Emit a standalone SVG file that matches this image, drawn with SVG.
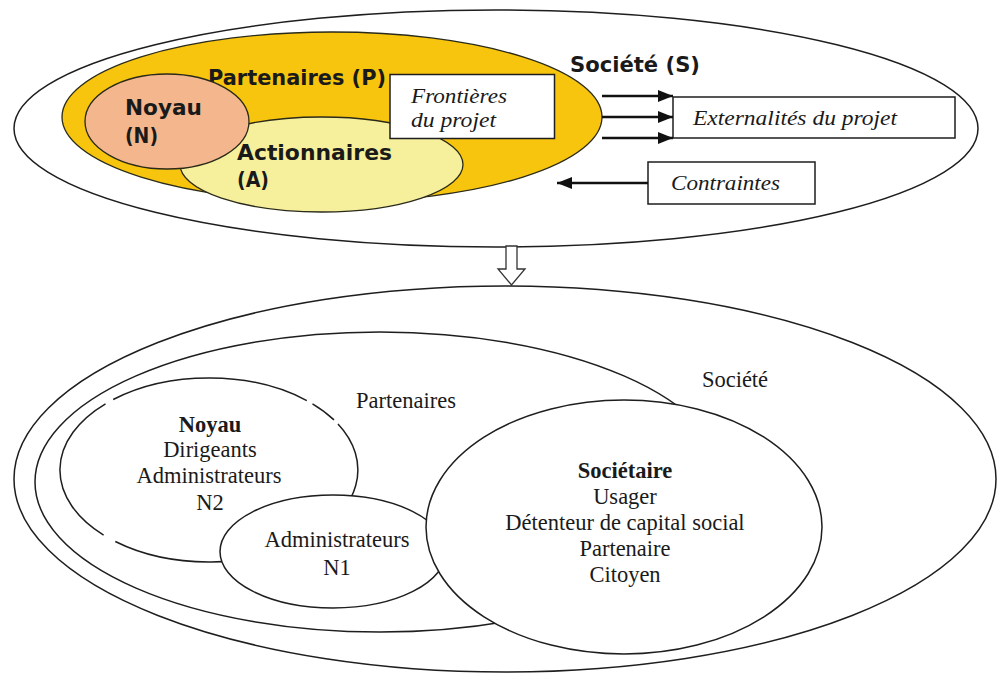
<svg xmlns="http://www.w3.org/2000/svg" width="997" height="675" viewBox="0 0 997 675">
<style>
.ln{stroke:#1e1e1e;stroke-width:1.5;fill:none}
.wf{stroke:#1e1e1e;stroke-width:1.5;fill:#ffffff}
.sb{font-family:"DejaVu Sans",Verdana,sans-serif;font-weight:bold;font-size:21px;fill:#1a1a1a}
.it{font-family:"Liberation Serif","Times New Roman",serif;font-style:italic;font-size:22px;fill:#1a1a1a}
.sr{font-family:"Liberation Serif","Times New Roman",serif;font-size:22.5px;fill:#1a1a1a;text-anchor:middle}
.bd{font-weight:bold}
.ar{stroke:#111;stroke-width:2.5;fill:none}
</style>
<defs>
<marker id="ah" markerUnits="userSpaceOnUse" markerWidth="15" markerHeight="12" refX="15" refY="6" orient="auto">
<path d="M0,0 L15,6 L0,12 Z" fill="#111"/>
</marker>
</defs>
<rect width="997" height="675" fill="#ffffff"/>

<!-- TOP DIAGRAM -->
<g id="societe-top">
<ellipse cx="496" cy="128.5" rx="482" ry="118.5" class="wf"/>
<text class="sb" x="570" y="72" textLength="130" lengthAdjust="spacingAndGlyphs">Société (S)</text>
</g>
<g id="partenaires-top">
<ellipse cx="332" cy="117" rx="270" ry="85" fill="#F8C50E" stroke="#2a2a1a" stroke-width="1.3"/>
<text class="sb" x="208" y="85" textLength="178" lengthAdjust="spacingAndGlyphs">Partenaires (P)</text>
</g>
<g id="actionnaires-top">
<ellipse cx="321.5" cy="164.5" rx="141.5" ry="47.5" fill="#F6EF9C" stroke="#2a2a1a" stroke-width="1.3"/>
<text class="sb" x="237" y="160" textLength="155" lengthAdjust="spacingAndGlyphs">Actionnaires</text>
<text class="sb" x="237" y="187" textLength="32" lengthAdjust="spacingAndGlyphs">(A)</text>
</g>
<g id="noyau-top">
<ellipse cx="167" cy="121.5" rx="82" ry="47.5" fill="#F4B68C" stroke="#2a2a1a" stroke-width="1.3"/>
<text class="sb" x="125" y="115" textLength="77" lengthAdjust="spacingAndGlyphs">Noyau</text>
<text class="sb" x="125" y="143" textLength="33" lengthAdjust="spacingAndGlyphs">(N)</text>
</g>
<g id="frontieres">
<rect x="390" y="74.5" width="164.5" height="64" class="wf"/>
<text class="it" x="411" y="103" textLength="96" lengthAdjust="spacingAndGlyphs">Frontières</text>
<text class="it" x="411" y="127" textLength="85" lengthAdjust="spacingAndGlyphs">du projet</text>
</g>
<g id="externalites">
<rect x="673" y="97" width="282" height="41" class="wf"/>
<text class="it" x="693" y="125" textLength="204" lengthAdjust="spacingAndGlyphs">Externalités du projet</text>
</g>
<g id="contraintes">
<rect x="648" y="162" width="167" height="42" class="wf"/>
<text class="it" x="671" y="190" textLength="109" lengthAdjust="spacingAndGlyphs">Contraintes</text>
</g>

<g id="connectors">
<line class="ar" x1="602" y1="96" x2="673" y2="96" marker-end="url(#ah)"/>
<line class="ar" x1="602" y1="117" x2="673" y2="117" marker-end="url(#ah)"/>
<line class="ar" x1="602" y1="138" x2="673" y2="138" marker-end="url(#ah)"/>
<line class="ar" x1="648" y1="183" x2="557" y2="183" marker-end="url(#ah)"/>
<polygon points="506,246 517,246 517,269 525,269 511.5,285 498,269 506,269" fill="#ffffff" stroke="#333" stroke-width="1.3"/>
</g>

<!-- BOTTOM DIAGRAM -->
<g id="societe">
<ellipse cx="505" cy="479" rx="491" ry="193" class="wf"/>
<text class="sr" x="735" y="387">Société</text>
</g>
<g id="partenaires">
<ellipse cx="380" cy="482" rx="345" ry="150" class="wf"/>
<text class="sr" x="406" y="408">Partenaires</text>
</g>
<g id="noyau">
<path class="ln" d="M338,424 A149,92 0 0 1 115.3,541.5 M103.6,535.1 A149,92 0 0 1 105.5,403.8 M113.2,399.5 A149,92 0 0 1 306.8,400.6 M312.5,403.8 A149,92 0 0 1 334,419.9"/>
<text class="sr bd" x="210" y="432">Noyau</text>
<text class="sr" x="210" y="457">Dirigeants</text>
<text class="sr" x="209" y="483">Administrateurs</text>
<text class="sr" x="210" y="510">N2</text>
</g>
<g id="administrateurs">
<ellipse cx="333" cy="551.5" rx="113" ry="56.5" class="wf"/>
<text class="sr" x="337" y="547">Administrateurs</text>
<text class="sr" x="337" y="575">N1</text>
</g>
<g id="societaire">
<ellipse cx="624" cy="527" rx="198" ry="127" class="wf"/>
<text class="sr bd" x="625" y="478">Sociétaire</text>
<text class="sr" x="625" y="504">Usager</text>
<text class="sr" x="625" y="530">Détenteur de capital social</text>
<text class="sr" x="625" y="556">Partenaire</text>
<text class="sr" x="625" y="582">Citoyen</text>
</g>
</svg>
